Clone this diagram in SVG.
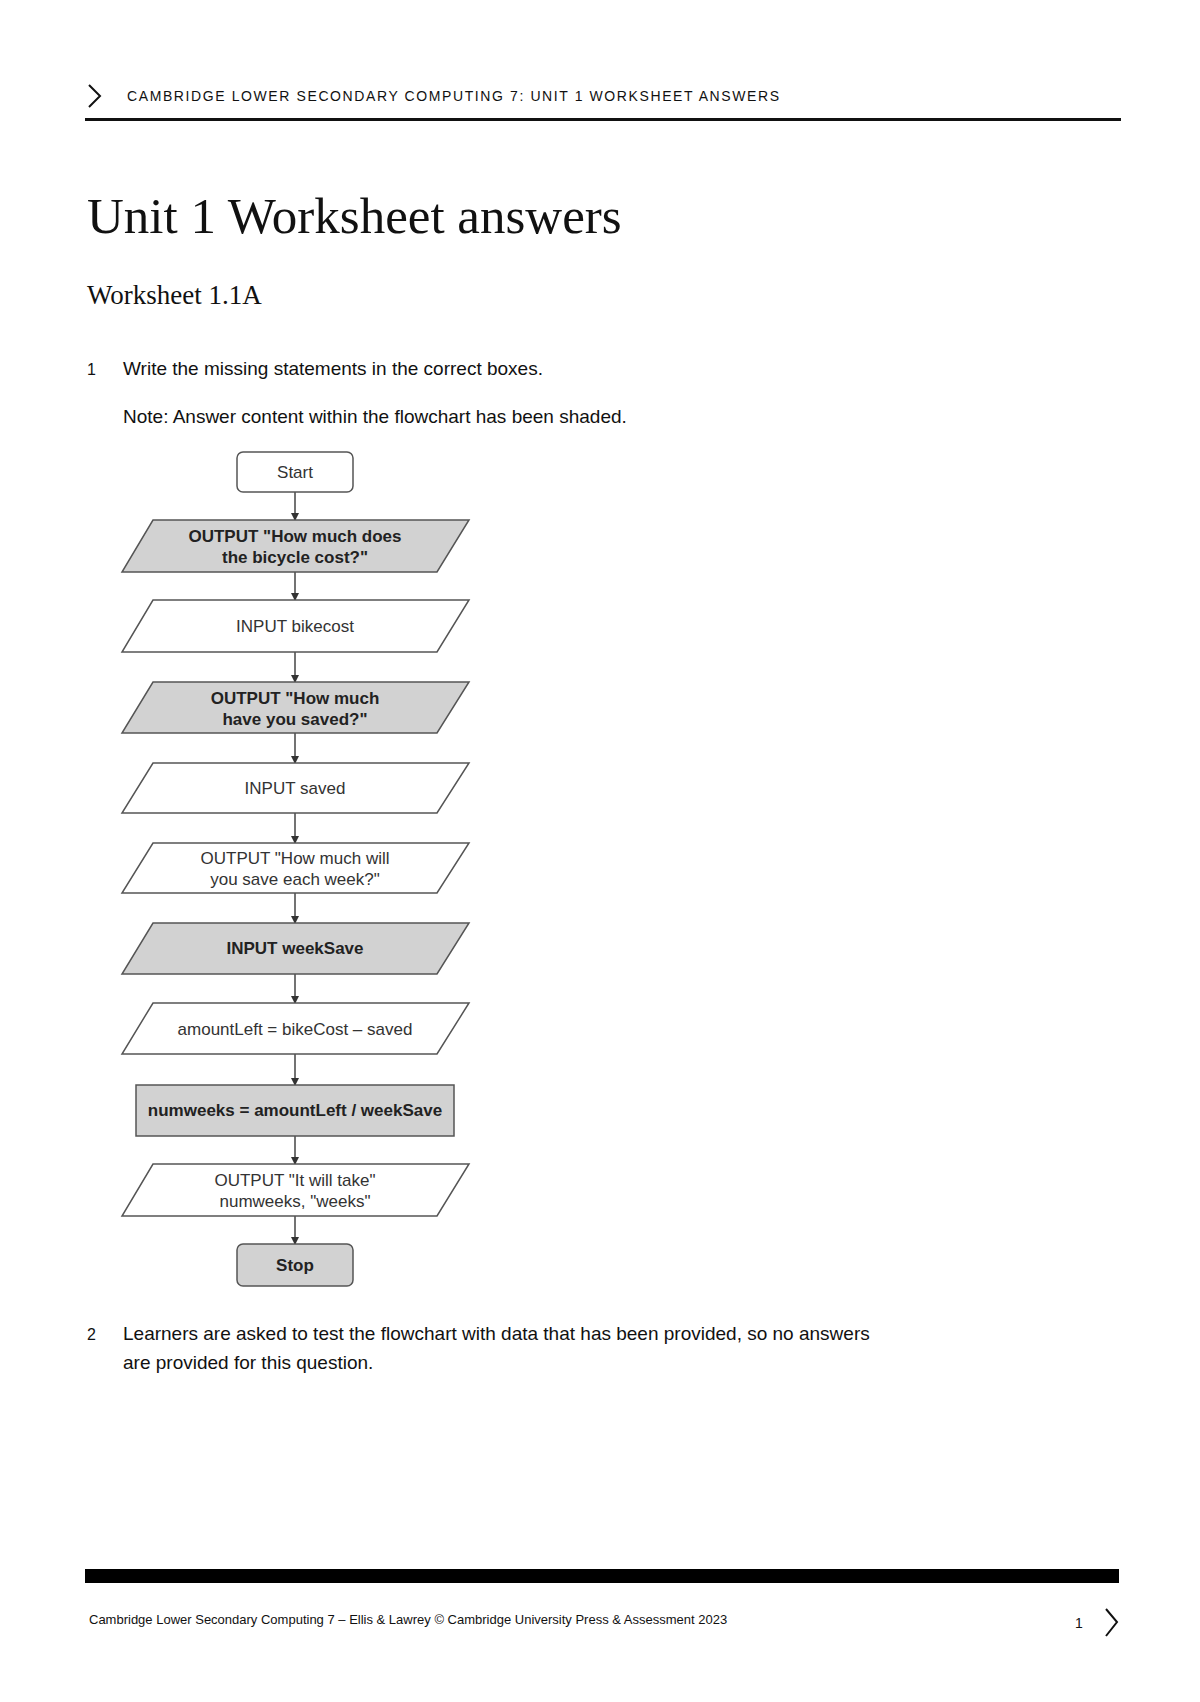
<svg xmlns="http://www.w3.org/2000/svg" width="1200" height="1702" viewBox="0 0 1200 1702">
<style>
.s{font-family:"Liberation Sans",Arial,sans-serif;fill:#111}
.sf{font-family:"Liberation Serif","Times New Roman",serif;fill:#111}
.fc{font-family:"Liberation Sans",Arial,sans-serif;font-size:17px;fill:#333;text-anchor:middle}
.b{font-weight:bold;fill:#222}
.w{fill:#fff;stroke:#555;stroke-width:1.5}
.g{fill:#d2d2d2;stroke:#555;stroke-width:1.5}
.c line{stroke:#444;stroke-width:1.5}
</style>
<defs><marker id="a" markerWidth="8" markerHeight="8" refX="7" refY="4" orient="auto" markerUnits="userSpaceOnUse"><path d="M0,0 L8,4 L0,8 z" fill="#333"/></marker></defs>
<rect width="1200" height="1702" fill="#fff"/>
<g id="header">
<polyline points="89,85 100,96 89,107" fill="none" stroke="#111" stroke-width="2"/>
<text class="s" x="127" y="101" font-size="14" letter-spacing="1.6">CAMBRIDGE LOWER SECONDARY COMPUTING 7: UNIT 1 WORKSHEET ANSWERS</text>
<rect x="85" y="118" width="1036" height="3" fill="#111"/>
</g>
<text class="sf" x="87" y="233" font-size="51">Unit 1 Worksheet answers</text>
<text class="sf" x="87" y="304" font-size="27">Worksheet 1.1A</text>
<text class="s" x="87" y="375" font-size="16">1</text>
<text class="s" x="123" y="375" font-size="19">Write the missing statements in the correct boxes.</text>
<text class="s" x="123" y="423" font-size="19">Note: Answer content within the flowchart has been shaded.</text>
<g class="c">
<line x1="295" y1="492" x2="295" y2="520" marker-end="url(#a)"/>
<line x1="295" y1="572" x2="295" y2="600" marker-end="url(#a)"/>
<line x1="295" y1="652" x2="295" y2="682" marker-end="url(#a)"/>
<line x1="295" y1="733" x2="295" y2="763" marker-end="url(#a)"/>
<line x1="295" y1="813" x2="295" y2="843" marker-end="url(#a)"/>
<line x1="295" y1="893" x2="295" y2="923" marker-end="url(#a)"/>
<line x1="295" y1="974" x2="295" y2="1003" marker-end="url(#a)"/>
<line x1="295" y1="1054" x2="295" y2="1085" marker-end="url(#a)"/>
<line x1="295" y1="1136" x2="295" y2="1164" marker-end="url(#a)"/>
<line x1="295" y1="1216" x2="295" y2="1244" marker-end="url(#a)"/>
</g>
<g id="start"><rect class="w" x="237" y="452" width="116" height="40" rx="6"/><text class="fc" x="295" y="478">Start</text></g>
<g id="p1"><polygon class="g" points="153,520 469,520 437,572 122,572"/><text class="fc b" x="295" y="542">OUTPUT "How much does</text><text class="fc b" x="295" y="563">the bicycle cost?"</text></g>
<g id="p2"><polygon class="w" points="153,600 469,600 437,652 122,652"/><text class="fc" x="295" y="632">INPUT bikecost</text></g>
<g id="p3"><polygon class="g" points="153,682 469,682 437,733 122,733"/><text class="fc b" x="295" y="704">OUTPUT "How much</text><text class="fc b" x="295" y="725">have you saved?"</text></g>
<g id="p4"><polygon class="w" points="153,763 469,763 437,813 122,813"/><text class="fc" x="295" y="794">INPUT saved</text></g>
<g id="p5"><polygon class="w" points="153,843 469,843 437,893 122,893"/><text class="fc" x="295" y="864">OUTPUT "How much will</text><text class="fc" x="295" y="885">you save each week?"</text></g>
<g id="p6"><polygon class="g" points="153,923 469,923 437,974 122,974"/><text class="fc b" x="295" y="954">INPUT weekSave</text></g>
<g id="p7"><polygon class="w" points="153,1003 469,1003 437,1054 122,1054"/><text class="fc" x="295" y="1035">amountLeft = bikeCost – saved</text></g>
<g id="r1"><rect class="g" x="136" y="1085" width="318" height="51"/><text class="fc b" x="295" y="1116">numweeks = amountLeft / weekSave</text></g>
<g id="p8"><polygon class="w" points="153,1164 469,1164 437,1216 122,1216"/><text class="fc" x="295" y="1186">OUTPUT "It will take"</text><text class="fc" x="295" y="1207">numweeks, "weeks"</text></g>
<g id="stop"><rect class="g" x="237" y="1244" width="116" height="42" rx="6"/><text class="fc b" x="295" y="1271">Stop</text></g>
<text class="s" x="87" y="1340" font-size="16">2</text>
<text class="s" x="123" y="1340" font-size="19">Learners are asked to test the flowchart with data that has been provided, so no answers</text>
<text class="s" x="123" y="1369" font-size="19">are provided for this question.</text>
<g id="footer">
<rect x="85" y="1569" width="1034" height="14" fill="#000"/>
<text class="s" x="89" y="1624" font-size="13">Cambridge Lower Secondary Computing 7 – Ellis &amp; Lawrey © Cambridge University Press &amp; Assessment 2023</text>
<text class="s" x="1075" y="1628" font-size="14">1</text>
<polyline points="1106,1609 1117,1622 1106,1636" fill="none" stroke="#111" stroke-width="2"/>
</g>
</svg>
